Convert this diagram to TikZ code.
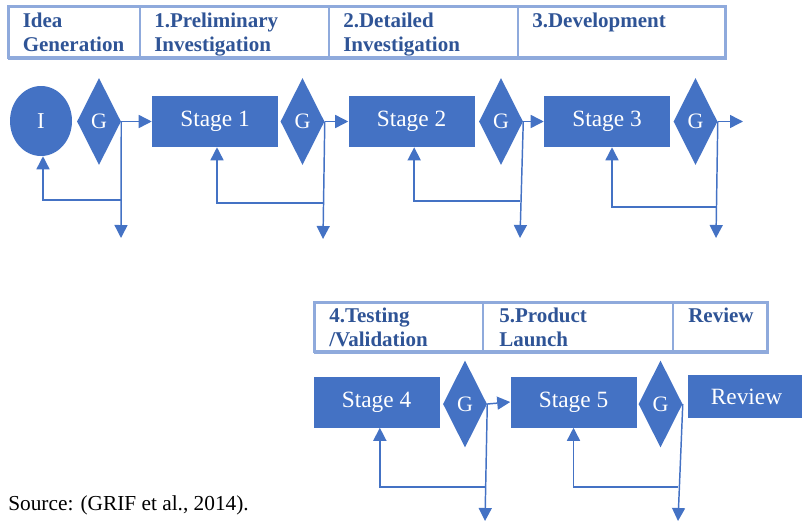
\documentclass[tikz,border=0pt]{standalone}
\usepackage{fontspec}
\setmainfont{Liberation Serif}
\usetikzlibrary{arrows.meta,shapes.geometric}
\definecolor{boxblue}{HTML}{4472C4}
\definecolor{gridblue}{HTML}{8FAADC}
\definecolor{headblue}{HTML}{2F5496}
\begin{document}
\begin{tikzpicture}[x=0.75pt,y=-0.75pt,
  stagebox/.style={rectangle,fill=boxblue,text=white,minimum width=94.5pt,
    minimum height=38.25pt,inner sep=0pt,font=\fontsize{17.5}{20}\selectfont},
  gate/.style={diamond,fill=boxblue,text=white,minimum width=33pt,
    minimum height=65.25pt,inner sep=0pt,font=\fontsize{16.5}{19}\selectfont},
  startnode/.style={ellipse,fill=boxblue,text=white,minimum width=46.5pt,
    minimum height=52.5pt,inner sep=0pt,font=\fontsize{17}{20}\selectfont},
  head/.style={anchor=north west,inner sep=0pt,align=left,text=headblue,
    font=\fontsize{15.75}{18}\selectfont\bfseries},
  flow/.style={draw=boxblue,line width=1.1pt,-{Triangle[length=9.75pt,width=9.75pt]}},
  grid/.style={draw=gridblue,line width=2.25pt},
  divider/.style={draw=gridblue,line width=1.5pt}]
\useasboundingbox (0,0) rectangle (802,521);

% header rows
\draw[grid] (8.5,6.5) rectangle (725.5,57.5);
\draw[gridblue,line width=3pt] (7.5,58) -- (726.5,58);
\draw[divider] (140,6.5) -- (140,57.5);
\draw[divider] (329,6.5) -- (329,57.5);
\draw[divider] (517.5,6.5) -- (517.5,57.5);
\node[head] (h0) at (22.5,12.7) {Idea\\Generation};
\node[head] (h1) at (154,12.7) {1.Preliminary\\Investigation};
\node[head] (h2) at (343,12.7) {2.Detailed\\Investigation};
\node[head] (h3) at (532,12.7) {3.Development};

\draw[grid] (314.5,302.5) rectangle (767.5,351.5);
\draw[gridblue,line width=3pt] (313.5,352) -- (768.5,352);
\draw[divider] (483,302.5) -- (483,351.5);
\draw[divider] (673,302.5) -- (673,351.5);
\node[head] (h4) at (329,307.7) {4.Testing\\/Validation};
\node[head] (h5) at (499,307.7) {5.Product\\Launch};
\node[head] (h6) at (688,307.7) {Review};

% first row of stages and gates
\node[startnode] (i) at (41,121) {I};
\node[gate] (g0) at (99,121.5) {G};
\node[stagebox] (s1) at (215,121.5) {Stage 1};
\node[gate] (g1) at (302.5,121.5) {G};
\node[stagebox] (s2) at (411.5,121.5) {Stage 2};
\node[gate] (g2) at (501,121.5) {G};
\node[stagebox] (s3) at (607,121.5) {Stage 3};
\node[gate] (g3) at (695.5,121.5) {G};

% second row
\node[stagebox] (s4) at (376.5,402) {Stage 4};
\node[gate] (g4) at (465,404) {G};
\node[stagebox] (s5) at (573.5,402) {Stage 5};
\node[gate] (g5) at (660.5,404) {G};
\node[rectangle,fill=boxblue,text=white,minimum width=87.75pt,minimum height=32.25pt,
  inner sep=0pt,font=\fontsize{17.5}{20}\selectfont] (rv) at (746.5,396.5) {Review};

% forward arrows
\coordinate (out3) at (743,121.5);
\draw[flow] (g0.east) -- (s1.west);
\draw[flow] (g1.east) -- (s2.west);
\draw[flow] (g2.east) -- (s3.west);
\draw[flow] (g3.east) -- (out3);
\draw[flow] (g4.east) -- (s5.west);

% kill arrows and recycle loops
\coordinate (d0) at (121,238);
\coordinate (d1) at (323,239);
\coordinate (d2) at (520,238);
\coordinate (d3) at (716,238);
\coordinate (d4) at (485,521);
\coordinate (d5) at (678,521);
\coordinate (b0) at (121,200);
\coordinate (b1) at (323,203);
\coordinate (b2) at (520,201);
\coordinate (b3) at (716,207);
\coordinate (b4) at (485,487);
\coordinate (b5) at (678,487);

\draw[flow] (g0.east) -- (d0);
\draw[flow] (g1.east) -- (d1);
\draw[flow] (g2.east) -- (d2);
\draw[flow] (g3.east) -- (d3);
\draw[flow] (g4.east) -- (d4);
\draw[flow] (g5.east) -- (d5);

\draw[flow] (b0) -| ([xshift=1.5pt]i.south);
\draw[flow] (b1) -| ([xshift=1.5pt]s1.south);
\draw[flow] (b2) -| ([xshift=2pt]s2.south);
\draw[flow] (b3) -| ([xshift=3.75pt]s3.south);
\draw[flow] (b4) -| ([xshift=2.5pt]s4.south);
\draw[flow] (b5) -| (s5.south);

% citation
\node[anchor=base west,inner sep=0pt,font=\fontsize{16}{19}\selectfont] (src) at (8,510)
  {Source: (GRIF et al., 2014).};
\end{tikzpicture}
\end{document}
